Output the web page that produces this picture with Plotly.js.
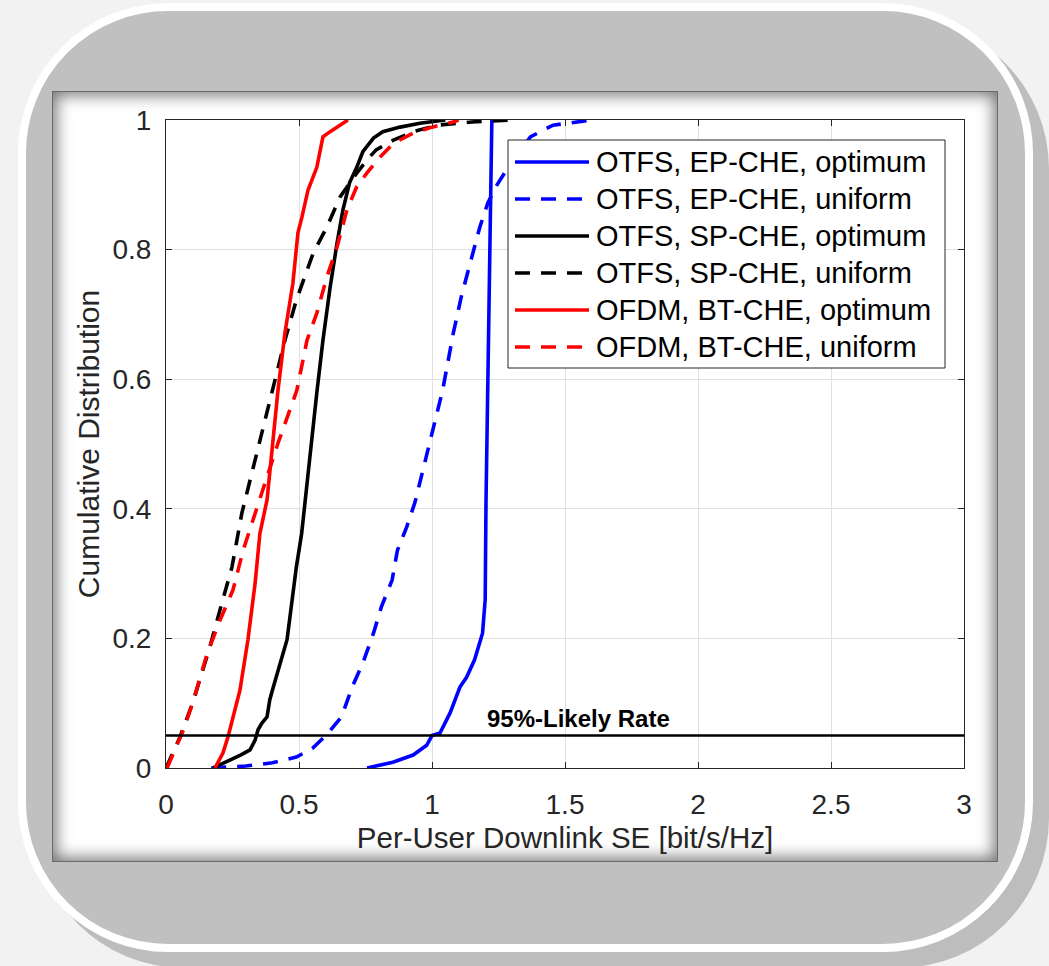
<!DOCTYPE html>
<html>
<head>
<meta charset="utf-8">
<script src="https://cdn.plot.ly/plotly-3.0.1.min.js"></script>
<style>
  html, body { margin: 0; padding: 0; background: #f2f2f2; width: 1049px; height: 966px; overflow: hidden; }
  #shadow { position: absolute; left: 34px; top: 19px; width: 1015px; height: 949px; border-radius: 150px; background: #bdbdbd; }
  #ring { position: absolute; left: 18px; top: 3px; width: 1015px; height: 949px; box-sizing: border-box; border: 8px solid #ffffff; border-radius: 150px; background: #c0c0c0; }
  #panel { position: absolute; left: 52px; top: 91px; width: 946px; height: 771px; box-sizing: border-box; background: #ffffff; border: 1px solid #6a6a6a; box-shadow: inset 0 0 16px 3px rgba(0,0,0,0.55); }
  #chart { position: absolute; left: 0; top: 0; width: 1049px; height: 966px; }
</style>
</head>
<body>
<div id="shadow"></div>
<div id="ring"></div>
<div id="panel"></div>
<div id="chart"></div>
<script>
// Series names
const seriesNames = [
  "OTFS, EP-CHE, optimum",
  "OTFS, EP-CHE, uniform",
  "OTFS, SP-CHE, optimum",
  "OTFS, SP-CHE, uniform",
  "OFDM, BT-CHE, optimum",
  "OFDM, BT-CHE, uniform"
];
const seriesColors = ["#0000ff", "#0000ff", "#000000", "#000000", "#ff0000", "#ff0000"];
const seriesDashed = [false, true, false, true, false, true];

// OTFS, EP-CHE, optimum
const blueOptX = [0.756, 0.853, 0.929, 0.98, 1.0, 1.03, 1.068, 1.105, 1.13, 1.16, 1.19, 1.2, 1.203, 1.21, 1.218, 1.225];
const blueOptY = [0, 0.009, 0.02, 0.035, 0.05, 0.054, 0.085, 0.125, 0.14, 0.167, 0.208, 0.26, 0.41, 0.6, 0.85, 1.0];

// OTFS, EP-CHE, uniform
const blueUniX = [0.17, 0.3, 0.4, 0.49, 0.55, 0.61, 0.66, 0.70, 0.74, 0.78, 0.81, 0.85, 0.87, 0.905, 0.936, 0.985, 1.04, 1.08, 1.11, 1.15, 1.18, 1.21, 1.24, 1.28, 1.37, 1.455, 1.56, 1.6];
const blueUniY = [0, 0.003, 0.008, 0.017, 0.03, 0.054, 0.079, 0.125, 0.162, 0.208, 0.249, 0.29, 0.336, 0.372, 0.41, 0.49, 0.583, 0.671, 0.727, 0.789, 0.835, 0.872, 0.897, 0.923, 0.974, 0.992, 0.998, 1.0];

// OTFS, SP-CHE, optimum
const blackOptX = [0.177, 0.23, 0.28, 0.316, 0.335, 0.346, 0.36, 0.38, 0.39, 0.40, 0.455, 0.466, 0.49, 0.51, 0.523, 0.567, 0.59, 0.617, 0.643, 0.665, 0.69, 0.717, 0.74, 0.78, 0.815, 0.88, 0.955, 1.05];
const blackOptY = [0, 0.01, 0.02, 0.028, 0.043, 0.059, 0.069, 0.079, 0.105, 0.12, 0.198, 0.233, 0.31, 0.362, 0.414, 0.579, 0.66, 0.742, 0.81, 0.861, 0.903, 0.927, 0.951, 0.972, 0.982, 0.989, 0.995, 1.0];

// OTFS, SP-CHE, uniform
const blackUniX = [0.0, 0.05, 0.1, 0.165, 0.203, 0.248, 0.285, 0.402, 0.447, 0.49, 0.553, 0.605, 0.654, 0.717, 0.755, 0.79, 0.855, 0.93, 1.02, 1.15, 1.3];
const blackUniY = [0, 0.045, 0.1, 0.187, 0.244, 0.31, 0.393, 0.583, 0.66, 0.722, 0.794, 0.835, 0.881, 0.918, 0.938, 0.954, 0.969, 0.982, 0.992, 0.997, 1.0];

// OFDM, BT-CHE, optimum
const redOptX = [0.184, 0.214, 0.233, 0.252, 0.278, 0.308, 0.335, 0.353, 0.38, 0.421, 0.447, 0.477, 0.496, 0.511, 0.534, 0.567, 0.59, 0.617, 0.654, 0.684];
const redOptY = [0, 0.023, 0.048, 0.079, 0.12, 0.198, 0.285, 0.362, 0.414, 0.583, 0.671, 0.748, 0.826, 0.85, 0.892, 0.927, 0.974, 0.982, 0.992, 1.0];

// OFDM, BT-CHE, uniform
const redUniX = [0.004, 0.065, 0.1, 0.155, 0.203, 0.252, 0.29, 0.327, 0.353, 0.42, 0.492, 0.53, 0.567, 0.605, 0.643, 0.68, 0.717, 0.755, 0.805, 0.855, 0.93, 1.0, 1.08, 1.1];
const redUniY = [0, 0.058, 0.1, 0.177, 0.228, 0.275, 0.336, 0.383, 0.414, 0.5, 0.583, 0.66, 0.702, 0.758, 0.804, 0.861, 0.897, 0.918, 0.943, 0.964, 0.98, 0.989, 0.997, 1.0];

// 95%-likely rate reference line
const rateLabel = "95%-Likely Rate";
const rateX = [0, 3];
const rateY = [0.05, 0.05];

const xTitle = "Per-User Downlink SE [bit/s/Hz]";
const yTitle = "Cumulative Distribution";

const FONT = "'Liberation Sans', Arial, Helvetica, sans-serif";
const DASH = "15px,11px";
const LW = 3.6;

// page geometry of the plot area (pixels)
const PL = 166, PR = 964, PT = 120, PB = 768;
const W = 1049, H = 966;
function px(x) { return (x - PL) / (PR - PL); }
function py(y) { return (PB - y) / (PB - PT); }

const seriesX = [blueOptX, blueUniX, blackOptX, blackUniX, redOptX, redUniX];
const seriesY = [blueOptY, blueUniY, blackOptY, blackUniY, redOptY, redUniY];

const traces = seriesNames.map((n, i) => ({
  x: seriesX[i], y: seriesY[i], name: n, type: "scatter", mode: "lines", showlegend: false,
  line: { color: seriesColors[i], width: LW, dash: seriesDashed[i] ? DASH : "solid" }
}));
traces.push({ x: rateX, y: rateY, type: "scatter", mode: "lines", showlegend: false, hoverinfo: "skip",
  line: { color: "#000000", width: 2.5 } });

// legend drawn as a box with line samples and labels
const LEG = { x0: 508, x1: 945, y0: 140, y1: 368, row0: 162, rowGap: 37, s0: 515, s1: 589, tx: 594 };
const shapes = [{
  type: "rect", xref: "paper", yref: "paper",
  x0: px(LEG.x0), x1: px(LEG.x1), y0: py(LEG.y1), y1: py(LEG.y0),
  fillcolor: "#ffffff", line: { color: "#262626", width: 1 }, layer: "above"
}];
const annotations = [];
seriesNames.forEach((n, i) => {
  const yc = LEG.row0 + i * LEG.rowGap;
  shapes.push({ type: "line", xref: "paper", yref: "paper", layer: "above",
    x0: px(LEG.s0), x1: px(LEG.s1), y0: py(yc), y1: py(yc),
    line: { color: seriesColors[i], width: LW, dash: seriesDashed[i] ? DASH : "solid" } });
  annotations.push({ xref: "paper", yref: "paper", x: px(LEG.tx), y: py(yc),
    xanchor: "left", yanchor: "middle", showarrow: false, text: n,
    font: { family: FONT, size: 29, color: "#000000" } });
});
annotations.push({
  x: 1.551, y: 0.05, xref: "x", yref: "y", xanchor: "center", yanchor: "bottom",
  yshift: 2, showarrow: false, text: "<b>" + rateLabel + "</b>",
  font: { family: FONT, size: 24, color: "#000000" }
});

const axisCommon = {
  showline: true, linecolor: "#262626", linewidth: 1, mirror: "ticks",
  ticks: "inside", ticklen: 6, tickwidth: 1, tickcolor: "#262626",
  showgrid: true, gridcolor: "#e0e0e0", gridwidth: 1, zeroline: false,
  tickfont: { family: FONT, size: 28, color: "#262626" }
};

const layout = {
  width: W, height: H,
  margin: { l: PL, r: W - PR, t: PT, b: H - PB },
  paper_bgcolor: "rgba(0,0,0,0)",
  plot_bgcolor: "#ffffff",
  showlegend: false,
  xaxis: Object.assign({}, axisCommon, {
    range: [0, 3], dtick: 0.5, tick0: 0, ticklabelstandoff: 11,
    title: { text: xTitle, font: { family: FONT, size: 29.5, color: "#262626" }, standoff: 8 }
  }),
  yaxis: Object.assign({}, axisCommon, {
    range: [0, 1], dtick: 0.2, tick0: 0, ticklabelstandoff: 8,
    title: { text: yTitle, font: { family: FONT, size: 30, color: "#262626" }, standoff: 3 }
  }),
  shapes: shapes,
  annotations: annotations
};

Plotly.newPlot("chart", traces, layout, { displayModeBar: false, staticPlot: true });
</script>
</body>
</html>
